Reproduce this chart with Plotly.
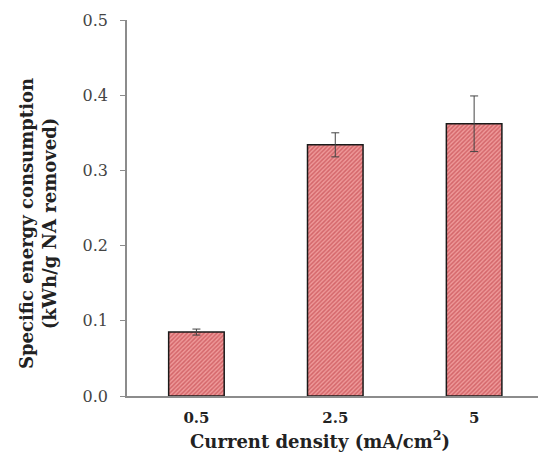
import plotly.graph_objects as go

categories = ["0.5", "2.5", "5"]
values = [0.085, 0.334, 0.362]
errors = [0.004, 0.016, 0.037]
y_ticks = [0.0, 0.1, 0.2, 0.3, 0.4, 0.5]
y_ticklabels = ["0.0", "0.1", "0.2", "0.3", "0.4", "0.5"]

serif = "DejaVu Serif"

fig = go.Figure()
fig.add_trace(go.Bar(
    x=categories, y=values, width=0.40,
    marker=dict(
        color="#ec9090",
        line=dict(color="#1a1a1a", width=1.5),
        pattern=dict(shape="/", fgcolor="#b8323a", bgcolor="#ef9a9a", size=3, solidity=0.5),
    ),
    error_y=dict(type="data", array=errors, visible=True, color="#444444", thickness=1, width=4),
))

fig.update_layout(
    width=538, height=457,
    margin=dict(l=127, r=0, t=20, b=61),
    plot_bgcolor="white", paper_bgcolor="white",
    showlegend=False,
    font=dict(family=serif, color="#333333"),
    xaxis=dict(
        type="category", range=[-0.5, 2.46],
        showline=True, linecolor="#8c8c8c", linewidth=1.5,
        ticks="", showgrid=False, ticklabelstandoff=7,
        tickfont=dict(size=15, color="#222222", family=serif, weight="bold"),
    ),
    yaxis=dict(
        range=[0, 0.5], tickvals=y_ticks, ticktext=y_ticklabels,
        showline=True, linecolor="#8c8c8c", linewidth=1.5,
        ticks="outside", ticklen=5, tickcolor="#8c8c8c",
        showgrid=False, zeroline=False, ticklabelstandoff=9,
        tickfont=dict(size=16, color="#444444", family=serif),
    ),
    annotations=[
        dict(text="<b>Current density (mA/cm<sup>2</sup>)</b>", xref="paper", yref="paper",
             x=(320 - 127) / 411, y=-(440 - 396) / 376, xanchor="center", yanchor="middle", showarrow=False,
             font=dict(size=18, color="#222222", family=serif)),
        dict(text="<b>Specific energy consumption<br>(kWh/g NA removed)</b>", xref="paper", yref="paper",
             x=-(127 - 38) / 411, y=(396 - 224) / 376, xanchor="center", yanchor="middle", showarrow=False,
             textangle=-90, font=dict(size=18, color="#222222", family=serif)),
    ],
)

fig.write_html("out.html")
